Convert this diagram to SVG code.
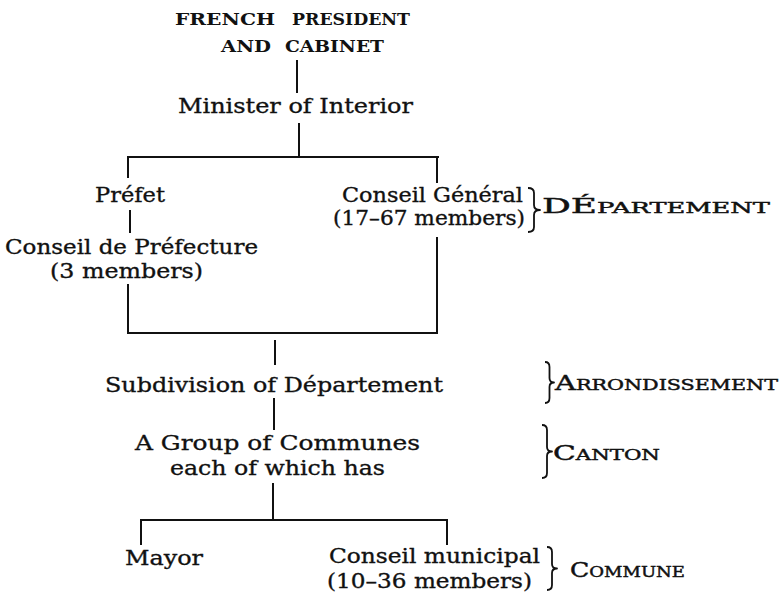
<svg xmlns="http://www.w3.org/2000/svg" width="780" height="594" viewBox="0 0 780 594">
<style>
  .t { font-family: "DejaVu Serif", "Liberation Serif", serif; font-size: 21px; fill: #111; stroke: #111; stroke-width: 0.35; }
  .h { font-family: "DejaVu Serif", "Liberation Serif", serif; font-size: 17px; font-weight: bold; fill: #111; }
  .sc { font-family: "DejaVu Serif", "Liberation Serif", serif; font-size: 21px; fill: #111; stroke: #111; stroke-width: 0.45; }
  .sm { font-size: 15px; }
  .ln { stroke: #111; stroke-width: 2; fill: none; stroke-linecap: butt; }
  .br { stroke: #111; stroke-width: 1.8; fill: none; stroke-linejoin: round; }
</style>
<rect width="780" height="594" fill="#ffffff"/>

<g id="connectors">
  <line class="ln" x1="297" y1="60" x2="297" y2="93"/>
  <line class="ln" x1="299" y1="123" x2="299" y2="157"/>
  <line class="ln" x1="127" y1="157" x2="439" y2="157"/>
  <line class="ln" x1="128" y1="157" x2="128" y2="178"/>
  <line class="ln" x1="437" y1="157" x2="437" y2="183"/>
  <line class="ln" x1="130" y1="210" x2="130" y2="233"/>
  <line class="ln" x1="128" y1="284" x2="128" y2="334"/>
  <line class="ln" x1="437" y1="237" x2="437" y2="334"/>
  <line class="ln" x1="127" y1="333" x2="438" y2="333"/>
  <line class="ln" x1="275" y1="340" x2="275" y2="365"/>
  <line class="ln" x1="274" y1="398" x2="274" y2="430"/>
  <line class="ln" x1="273" y1="483" x2="273" y2="520"/>
  <line class="ln" x1="140" y1="520" x2="448" y2="520"/>
  <line class="ln" x1="141" y1="520" x2="141" y2="545"/>
  <line class="ln" x1="447" y1="520" x2="447" y2="545"/>
</g>

<g id="president">
  <text class="h" y="25"><tspan x="175" textLength="100" lengthAdjust="spacingAndGlyphs">FRENCH</tspan><tspan x="292" textLength="118" lengthAdjust="spacingAndGlyphs">PRESIDENT</tspan></text>
  <text class="h" y="52"><tspan x="221" textLength="50" lengthAdjust="spacingAndGlyphs">AND</tspan><tspan x="285" textLength="99" lengthAdjust="spacingAndGlyphs">CABINET</tspan></text>
</g>

<g id="minister">
  <text class="t" x="178" y="113" textLength="235" lengthAdjust="spacingAndGlyphs">Minister of Interior</text>
</g>

<g id="prefet">
  <text class="t" x="95" y="202" textLength="70" lengthAdjust="spacingAndGlyphs">Préfet</text>
</g>

<g id="conseil-general">
  <text class="t" x="342" y="202" textLength="181" lengthAdjust="spacingAndGlyphs">Conseil Général</text>
  <text class="t" x="333" y="225" textLength="192" lengthAdjust="spacingAndGlyphs">(17–67 members)</text>
</g>

<g id="departement">
  <path class="br" d="M528,188 Q534,188 534,193 L534,205 Q534,210 540,210 Q534,210 534,215 L534,227 Q534,232 528,232"/>
  <text class="sc" x="542" y="213" textLength="228" lengthAdjust="spacingAndGlyphs">DÉ<tspan class="sm">PARTEMENT</tspan></text>
</g>

<g id="conseil-prefecture">
  <text class="t" x="5" y="254" textLength="253" lengthAdjust="spacingAndGlyphs">Conseil de Préfecture</text>
  <text class="t" x="50" y="278" textLength="153" lengthAdjust="spacingAndGlyphs">(3 members)</text>
</g>

<g id="subdivision">
  <text class="t" x="105" y="392" textLength="338" lengthAdjust="spacingAndGlyphs">Subdivision of Département</text>
</g>

<g id="arrondissement">
  <path class="br" d="M545,362 Q549.5,362 549.5,367 L549.5,378 Q549.5,382.5 554,382.5 Q549.5,382.5 549.5,387 L549.5,398 Q549.5,403 545,403"/>
  <text class="sc" x="555" y="390" textLength="223" lengthAdjust="spacingAndGlyphs">A<tspan class="sm">RRONDISSEMENT</tspan></text>
</g>

<g id="group-communes">
  <text class="t" x="135" y="450" textLength="285" lengthAdjust="spacingAndGlyphs">A Group of Communes</text>
  <text class="t" x="170" y="475" textLength="215" lengthAdjust="spacingAndGlyphs">each of which has</text>
</g>

<g id="canton">
  <path class="br" d="M542,425 Q547,425 547,430 L547,447 Q547,451.5 552,451.5 Q547,451.5 547,456 L547,473 Q547,478 542,478"/>
  <text class="sc" x="553" y="460" textLength="107" lengthAdjust="spacingAndGlyphs">C<tspan class="sm">ANTON</tspan></text>
</g>

<g id="mayor">
  <text class="t" x="125" y="565" textLength="78" lengthAdjust="spacingAndGlyphs">Mayor</text>
</g>

<g id="conseil-municipal">
  <text class="t" x="329" y="563" textLength="211" lengthAdjust="spacingAndGlyphs">Conseil municipal</text>
  <text class="t" x="327" y="588" textLength="205" lengthAdjust="spacingAndGlyphs">(10–36 members)</text>
</g>

<g id="commune">
  <path class="br" d="M547,547 Q552,547 552,552 L552,564 Q552,568.5 557,568.5 Q552,568.5 552,573 L552,585 Q552,590 547,590"/>
  <text class="sc" x="570" y="577" textLength="115" lengthAdjust="spacingAndGlyphs">C<tspan class="sm">OMMUNE</tspan></text>
</g>
</svg>
